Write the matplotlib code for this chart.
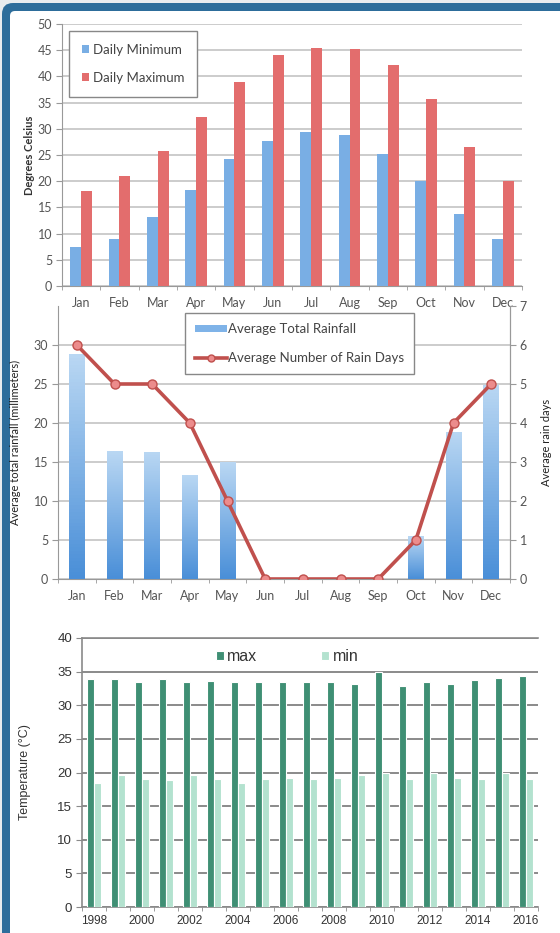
import matplotlib
matplotlib.use("Agg")
import matplotlib.pyplot as plt
import numpy as np
from matplotlib.patches import FancyBboxPatch, Rectangle
from matplotlib.lines import Line2D
from matplotlib.transforms import IdentityTransform

# ---- data ----
months = ["Jan", "Feb", "Mar", "Apr", "May", "Jun",
          "Jul", "Aug", "Sep", "Oct", "Nov", "Dec"]
daily_min = [7.5, 9.0, 13.2, 18.4, 24.2, 27.6, 29.4, 28.8, 25.2, 20.0, 13.8, 8.9]
daily_max = [18.2, 21.0, 25.8, 32.2, 39.0, 44.1, 45.5, 45.2, 42.2, 35.7, 26.6, 20.1]

rainfall = [28.8, 16.4, 16.3, 13.3, 15.0, 0, 0, 0, 0, 5.5, 18.9, 24.9]
rain_days = [6, 5, 5, 4, 2, 0, 0, 0, 0, 1, 4, 5]

years = list(range(1998, 2017))
t_max = [33.9, 33.9, 33.4, 33.9, 33.4, 33.6, 33.4, 33.4, 33.4, 33.4,
         33.4, 33.1, 35.0, 32.8, 33.4, 33.1, 33.7, 34.0, 34.3]
t_min = [18.5, 19.6, 19.0, 18.9, 19.6, 19.1, 18.4, 19.0, 19.2, 19.0,
         19.2, 19.6, 19.9, 19.0, 20.0, 19.2, 19.1, 19.9, 19.1]

plt.rcParams["font.family"] = ["Lato", "DejaVu Sans"]
ARIAL = ["Liberation Sans", "DejaVu Sans"]

W, H = 560, 933
fig = plt.figure(figsize=(W / 100, H / 100), dpi=100)
fig.patch.set_facecolor("#e8ecef")

# blue frame with rounded top-left corner, drawn in pixels (origin bottom-left);
# right and bottom edges run off the picture
px = IdentityTransform()
fig.patches.append(FancyBboxPatch((2, -200), 1000, H - 3 + 200,
                                  boxstyle="round,pad=0,rounding_size=11",
                                  transform=px, facecolor="#2d6d9b",
                                  edgecolor="none", zorder=-10))
fig.patches.append(FancyBboxPatch((10, -200), 1000, H - 11 + 200,
                                  boxstyle="round,pad=0,rounding_size=5",
                                  transform=px, facecolor="white",
                                  edgecolor="none", zorder=-9))


def px_axes(left, right, top, bottom):
    return fig.add_axes([left / W, 1 - bottom / H, (right - left) / W, (bottom - top) / H])


GRID = "#c4c4c4"
TXT = "#555555"
x = np.arange(12)

# ---- panel 1: daily min / max temperature ----
ax1 = px_axes(62, 522, 24, 286)
ax1.set_facecolor("none")
ax1.bar(x - 0.14, daily_min, width=0.28, color="#79aee4", zorder=3, label="Daily Minimum")
ax1.bar(x + 0.14, daily_max, width=0.28, color="#e36d6d", zorder=3, label="Daily Maximum")
ax1.set_xlim(-0.5, 11.5)
ax1.set_ylim(0, 50)
ax1.set_yticks(range(0, 51, 5))
ax1.yaxis.grid(True, color=GRID, lw=1.2)
ax1.set_axisbelow(True)
ax1.set_xticks(x)
ax1.set_xticklabels(months)
ax1.set_xticks(np.arange(-0.5, 12, 1), minor=True)
ax1.tick_params(axis="x", which="major", length=0, pad=8, labelsize=9, labelcolor=TXT)
ax1.tick_params(axis="x", which="minor", length=3, color="#999999")
ax1.tick_params(axis="y", length=4, color="#999999", labelsize=9, labelcolor=TXT, pad=3)
for s in ["top", "right"]:
    ax1.spines[s].set_visible(False)
for s in ["left", "bottom"]:
    ax1.spines[s].set_color("#999999")
ax1.set_ylabel("Degrees Celsius", fontsize=8, fontweight="bold", color="#333333")
ax1.yaxis.set_label_coords(-0.058, 0.5)
leg1 = ax1.legend(loc="upper left", bbox_to_anchor=(0.015, 0.975), borderaxespad=0,
                  fontsize=9.5, handlelength=0.5, handleheight=0.5, labelspacing=1.2,
                  borderpad=1.0, handletextpad=0.3, fancybox=False,
                  edgecolor="#888888", framealpha=1)
for t in leg1.get_texts():
    t.set_color("#444444")

# ---- panel 2: rainfall and rain days ----
ax2 = px_axes(58, 510, 306, 579)
ax2.set_facecolor("none")
bars = ax2.bar(x, rainfall, width=0.42, color="#7fb3e8", zorder=3,
               label="Average Total Rainfall")
grad = np.linspace(0, 1, 64).reshape(-1, 1)
cmap = matplotlib.colors.LinearSegmentedColormap.from_list("rain", ["#4a8fd8", "#b9d7f3"])
for b in bars:
    if b.get_height() <= 0:
        continue
    b.set_facecolor("none")
    im = ax2.imshow(grad, cmap=cmap, origin="lower", aspect="auto", zorder=3,
                    extent=(b.get_x(), b.get_x() + b.get_width(), 0, b.get_height()))
    im.set_clip_path(b)
ax2.set_xlim(-0.5, 11.5)
ax2.set_ylim(0, 35)
ax2.set_yticks(range(0, 31, 5))
ax2.yaxis.grid(True, color=GRID, lw=1.2)
ax2.set_axisbelow(True)
ax2.set_xticks(x)
ax2.set_xticklabels(months)
ax2.set_xticks(np.arange(-0.5, 12, 1), minor=True)
ax2.tick_params(axis="x", which="major", length=0, pad=8, labelsize=9, labelcolor=TXT)
ax2.tick_params(axis="x", which="minor", length=3, color="#999999")
ax2.tick_params(axis="y", length=4, color="#999999", labelsize=9, labelcolor=TXT, pad=3)
ax2.spines["top"].set_visible(False)
for s in ["left", "bottom", "right"]:
    ax2.spines[s].set_color("#999999")
ax2.set_ylabel("Average total rainfall (millimeters)", fontsize=8, color="#222222")
ax2.yaxis.set_label_coords(-0.082, 0.5)

ax2r = ax2.twinx()
ax2r.plot(x, rain_days, color="#c0504d", lw=2.6, marker="o", ms=6.5,
          mfc="#ec8c8c", mec="#c0504d", mew=1, zorder=5)
ax2r.set_ylim(0, 7)
ax2r.set_yticks(range(0, 8))
ax2r.tick_params(axis="y", length=4, color="#999999", labelsize=9, labelcolor=TXT, pad=3)
for s in ["top", "left", "bottom"]:
    ax2r.spines[s].set_visible(False)
ax2r.spines["right"].set_color("#999999")
ax2r.set_ylabel("Average rain days", fontsize=8, color="#222222")
ax2r.yaxis.set_label_coords(1.068, 0.5)

handles2 = [Rectangle((0, 0), 1, 1, facecolor="#7fb3e8"),
            Line2D([], [], color="#c0504d", lw=2.6, marker="o", ms=5,
                   mfc="#ec8c8c", mec="#c0504d")]
leg2 = ax2r.legend(handles2, ["Average Total Rainfall", "Average Number of Rain Days"],
                   loc="upper left", bbox_to_anchor=(0.281, 0.974), borderaxespad=0,
                   fontsize=9.5, handlelength=2.4, handleheight=0.4, labelspacing=1.3,
                   borderpad=0.75, handletextpad=0.1, fancybox=False,
                   edgecolor="#888888", framealpha=1)
for t in leg2.get_texts():
    t.set_color("#444444")

# ---- panel 3: yearly max / min temperature ----
ax3 = px_axes(82, 538, 638, 907)
ax3.set_facecolor("none")
xi = np.arange(len(years))
ax3.bar(xi - 0.15, t_max, width=0.26, color="#3f8f74", edgecolor="white",
        lw=0.8, zorder=3, label="max")
ax3.bar(xi + 0.15, t_min, width=0.3, color="#b3e2cf", edgecolor="white",
        lw=0.8, zorder=3, label="min")
ax3.set_xlim(-0.5, len(years) - 0.5)
ax3.set_ylim(0, 40)
ax3.set_yticks(range(0, 41, 5))
ax3.yaxis.grid(True, color="#8a8a8a", lw=1.4)
ax3.set_axisbelow(True)
ax3.set_xticks(xi[::2])
ax3.set_xticklabels([str(y) for y in years[::2]])
ax3.set_xticks(np.arange(-0.5, len(years), 1), minor=True)
ax3.tick_params(axis="x", which="major", length=0, pad=6, labelsize=8.5, labelcolor="#333333")
ax3.tick_params(axis="x", which="minor", length=3, color="#8a8a8a")
ax3.tick_params(axis="y", length=4, color="#8a8a8a", labelsize=9.5, labelcolor="#333333", pad=3)
ax3.spines["right"].set_visible(False)
for s in ["left", "bottom", "top"]:
    ax3.spines[s].set_color("#8a8a8a")
    ax3.spines[s].set_linewidth(1.2)
ax3.set_ylabel("Temperature (°C)", fontsize=9, color="#333333", family=ARIAL)
ax3.yaxis.set_label_coords(-0.112, 0.5)
for t in ax3.get_xticklabels() + ax3.get_yticklabels():
    t.set_family(ARIAL)
leg3 = ax3.legend(loc="center", bbox_to_anchor=(0.45, 0.93), ncol=2, frameon=False,
                  handlelength=0.5, handleheight=0.5,
                  handletextpad=0.2, columnspacing=4.0,
                  prop={"family": ARIAL, "size": 11.5})
for t in leg3.get_texts():
    t.set_color("#333333")

fig.savefig("out.png", dpi=100, facecolor=fig.get_facecolor())
